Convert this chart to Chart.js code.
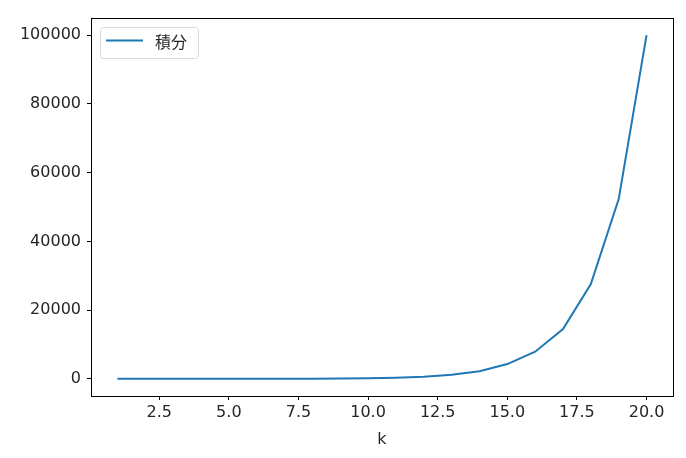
<!DOCTYPE html>
<html><head><meta charset="utf-8">
<script src="https://cdn.jsdelivr.net/npm/chart.js@4"></script>
<style>html,body{margin:0;padding:0;background:#fff;}#c{display:block;}</style>
</head><body>
<canvas id="c" width="686" height="458" style="width:686px;height:458px"></canvas>
<script>
const ks = [1,2,3,4,5,6,7,8,9,10,11,12,13,14,15,16,17,18,19,20];
const integrals = [0.5,1,2,4,7,13,25,47,90,170,320,600,1150,2200,4300,7900,14500,27600,52300,100000];
const xTicks = [2.5,5,7.5,10,12.5,15,17.5,20];
const yTicks = [0,20000,40000,60000,80000,100000];
const seriesLabel = '積分';
const xTitle = 'k';

const FONT = 'DejaVu Sans';
const TXT = '#262626';
const FS = 16;

const frame = {
  id: 'frame',
  afterDraw(chart) {
    const {ctx, chartArea: a} = chart;
    ctx.save();
    ctx.strokeStyle = '#000';
    ctx.lineWidth = 1;
    ctx.strokeRect(Math.round(a.left)+0.5, Math.round(a.top)+0.5, Math.round(a.right-a.left), Math.round(a.bottom-a.top));
    // legend
    const lx = 100, ly = 27, lw = 98, lh = 31;
    ctx.fillStyle = 'rgba(255,255,255,0.8)';
    ctx.strokeStyle = '#d9d9d9';
    ctx.beginPath();
    if (ctx.roundRect) ctx.roundRect(lx+0.5, ly+0.5, lw, lh, 3); else ctx.rect(lx+0.5, ly+0.5, lw, lh);
    ctx.fill(); ctx.stroke();
    ctx.strokeStyle = chart.data.datasets[0].borderColor;
    ctx.lineWidth = 2;
    ctx.beginPath();
    ctx.moveTo(lx+6, ly+13.5); ctx.lineTo(lx+43, ly+13.5); ctx.stroke();
    ctx.fillStyle = TXT;
    ctx.font = FS + 'px "Noto Sans CJK JP", "' + FONT + '"';
    ctx.textBaseline = 'middle';
    ctx.fillText(chart.data.datasets[0].label, lx+55, ly+15);
    ctx.restore();
  }
};

new Chart(document.getElementById('c'), {
  type: 'line',
  data: {
    datasets: [{
      label: seriesLabel,
      data: ks.map((k, i) => ({x: k, y: integrals[i]})),
      borderColor: '#1f77b4',
      borderWidth: 2,
      pointRadius: 0,
      fill: false,
      tension: 0
    }]
  },
  options: {
    responsive: false,
    animation: false,
    devicePixelRatio: 1,
    layout: {padding: {top: 18, right: 13, left: 0, bottom: 9}},
    plugins: {legend: {display: false}, tooltip: {enabled: false}},
    scales: {
      x: {
        type: 'linear', min: 0.05, max: 20.95,
        afterBuildTicks: s => { s.ticks = xTicks.map(v => ({value: v})); },
        afterFit: s => { s.height = 53; },
        grid: {display: true, drawOnChartArea: false, drawTicks: true, tickLength: 4, tickColor: '#000'},
        border: {display: true, color: '#000'},
        ticks: {color: TXT, font: {family: FONT, size: FS}, padding: 3, maxRotation: 0,
          callback: v => Number(v).toFixed(1)},
        title: {display: true, text: xTitle, color: TXT, font: {family: FONT, size: FS}, padding: {top: 0, bottom: 0}}
      },
      y: {
        type: 'linear', min: -5000, max: 105000,
        afterBuildTicks: s => { s.ticks = yTicks.map(v => ({value: v})); },
        afterFit: s => { s.width = 91; },
        grid: {display: true, drawOnChartArea: false, drawTicks: true, tickLength: 4, tickColor: '#000'},
        border: {display: true, color: '#000'},
        ticks: {color: TXT, font: {family: FONT, size: FS}, padding: 6,
          callback: v => String(v)}
      }
    }
  },
  plugins: [frame]
});
</script>
</body></html>
